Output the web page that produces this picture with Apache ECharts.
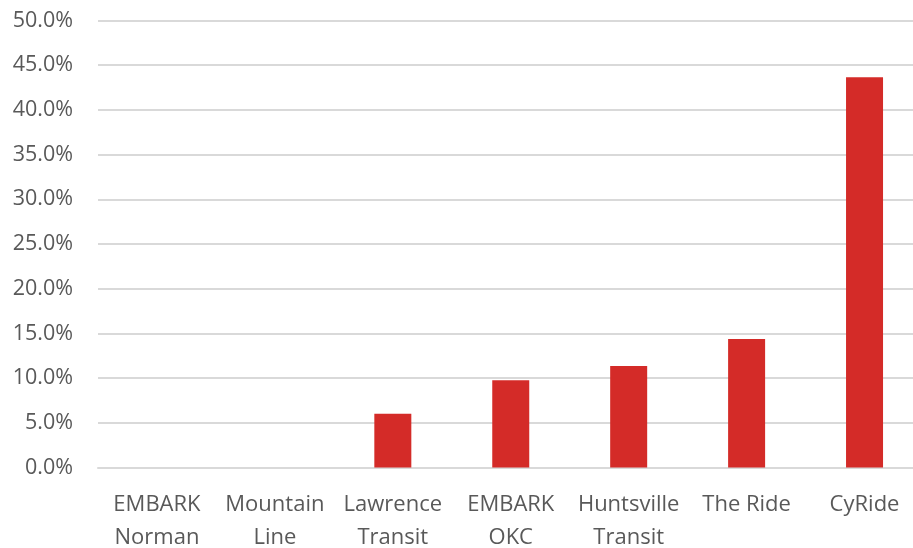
<!DOCTYPE html>
<html>
<head>
<meta charset="utf-8">
<script src="https://cdn.jsdelivr.net/npm/echarts@6/dist/echarts.min.js"></script>
<style>
html,body{margin:0;padding:0;background:#fff;}
#chart{width:913px;height:548px;}
</style>
</head>
<body>
<div id="chart"></div>
<script>
const categories = ["EMBARK\nNorman", "Mountain\nLine", "Lawrence\nTransit", "EMBARK\nOKC", "Huntsville\nTransit", "The Ride", "CyRide"];
const values = [0, 0, 6.0, 9.75, 11.35, 14.37, 43.65];
const yTicks = { min: 0, max: 50, interval: 5 };

const chart = echarts.init(document.getElementById('chart'), null, { renderer: 'canvas' });
chart.setOption({
  animation: false,
  backgroundColor: '#ffffff',
  grid: { left: 98, right: -10.5, top: 20.5, bottom: 80.5, containLabel: false, outerBoundsMode: 'none' },
  xAxis: {
    type: 'category',
    data: categories,
    axisLine: { show: true, lineStyle: { color: '#d9d9d9', width: 2 } },
    axisTick: { show: false },
    axisLabel: {
      color: '#595959', fontSize: 22, fontFamily: 'Open Sans', lineHeight: 33, margin: 21, interval: 0
    }
  },
  yAxis: {
    type: 'value',
    min: yTicks.min, max: yTicks.max, interval: yTicks.interval,
    axisLine: { show: false },
    axisTick: { show: false },
    splitLine: { lineStyle: { color: '#d9d9d9', width: 2 } },
    axisLabel: {
      color: '#595959', fontSize: 21.5, fontFamily: 'Open Sans', margin: 25,
      formatter: v => v.toFixed(1) + '%'
    }
  },
  series: [{
    type: 'bar',
    data: values,
    barWidth: 37,
    itemStyle: { color: '#D42B28' }
  }]
});
</script>
</body>
</html>
